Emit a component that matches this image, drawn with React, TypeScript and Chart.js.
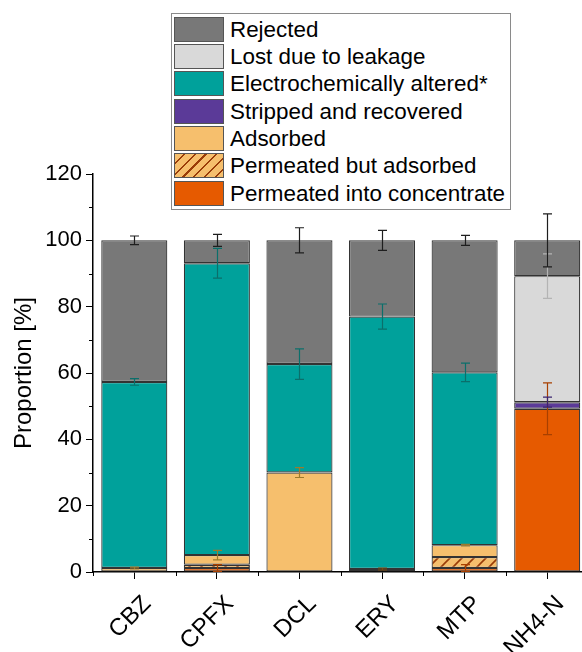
import React, { useEffect, useRef } from "react";
import { Chart, registerables } from "chart.js";
Chart.register(...registerables);

const categories = ["CBZ", "CPFX", "DCL", "ERY", "MTP", "NH4-N"];

// stacked from bottom to top
const concentrate = [0, 1.2, 0, 0, 1.2, 49.2];
const permeatedAdsorbed = [0, 1.0, 0, 0.9, 3.3, 0];
const adsorbed = [1.2, 2.9, 30.0, 0, 3.6, 0];
const stripped = [0, 0, 0, 0, 0, 2.0];
const altered = [56.1, 88.0, 32.7, 76.1, 52.1, 0];
const leakage = [0, 0, 0, 0, 0, 38.0];
const rejected = [42.7, 6.9, 37.3, 23.0, 39.8, 10.8];

const concentrateErr = [0, 1.0, 0, 0, 1.0, 7.8];
const permeatedAdsorbedErr = [0, 0, 0, 0.3, 0, 0];
const adsorbedErr = [0.3, 1.45, 1.5, 0, 0.2, 0];
const strippedErr = [0, 0, 0, 0, 0, 1.5];
const alteredErr = [1.0, 4.5, 4.6, 3.8, 2.8, 0];
const leakageErr = [0, 0, 0, 0, 0, 6.7];
const rejectedErr = [1.3, 1.8, 3.8, 3.0, 1.5, 8.0];

const yMin = 0;
const yMax = 120;
const yStep = 20;
const yMinorTicks = [10, 30, 50, 70, 90, 110];

const FONT = 'Arial, "Liberation Sans", sans-serif';
const HATCH_BG = "#f6bf6d";
const HATCH_LINE = "#9a3c08";

type Series = {
  label: string;
  data: number[];
  err: number[];
  color: string;
  errColor: string;
  hatch?: boolean;
};

const series: Series[] = [
  { label: "Permeated into concentrate", data: concentrate, err: concentrateErr, color: "#e65a00", errColor: "#a84000" },
  { label: "Permeated but adsorbed", data: permeatedAdsorbed, err: permeatedAdsorbedErr, color: HATCH_BG, errColor: "#7a4a10", hatch: true },
  { label: "Adsorbed", data: adsorbed, err: adsorbedErr, color: "#f6bf6d", errColor: "#9c7a2c" },
  { label: "Stripped and recovered", data: stripped, err: strippedErr, color: "#5b3a98", errColor: "#3a2470" },
  { label: "Electrochemically altered*", data: altered, err: alteredErr, color: "#00a19b", errColor: "#0b6f6b" },
  { label: "Lost due to leakage", data: leakage, err: leakageErr, color: "#d9d9d9", errColor: "#b4b4b4" },
  { label: "Rejected", data: rejected, err: rejectedErr, color: "#787878", errColor: "#1e1e1e" },
];

function makeHatch(): CanvasPattern | string {
  const s = 12;
  const c = document.createElement("canvas");
  c.width = s;
  c.height = s;
  const g = c.getContext("2d");
  if (!g) return HATCH_BG;
  g.fillStyle = HATCH_BG;
  g.fillRect(0, 0, s, s);
  g.strokeStyle = HATCH_LINE;
  g.lineWidth = 1.6;
  g.beginPath();
  g.moveTo(-2, s + 2);
  g.lineTo(s + 2, -2);
  g.moveTo(-2, 2);
  g.lineTo(2, -2);
  g.moveTo(s - 2, s + 2);
  g.lineTo(s + 2, s - 2);
  g.stroke();
  const p = g.createPattern(c, "repeat");
  return p || HATCH_BG;
}

const errorBarPlugin = {
  id: "errorBars",
  afterDatasetsDraw(chart: any) {
    const ctx = chart.ctx;
    const xs = chart.scales.x;
    const ys = chart.scales.y;
    const cum = categories.map(() => 0);
    ctx.save();
    ctx.lineWidth = 1.2;
    series.forEach((s) => {
      s.data.forEach((v, i) => {
        cum[i] += v;
        const e = s.err[i];
        if (!e) return;
        const px = Math.round(xs.getPixelForValue(i)) + 0.5;
        const top = ys.getPixelForValue(cum[i] + e);
        const bot = ys.getPixelForValue(cum[i] - e);
        ctx.strokeStyle = s.errColor;
        ctx.beginPath();
        ctx.moveTo(px, top);
        ctx.lineTo(px, bot);
        ctx.moveTo(px - 4.5, top);
        ctx.lineTo(px + 4.5, top);
        ctx.moveTo(px - 4.5, bot);
        ctx.lineTo(px + 4.5, bot);
        ctx.stroke();
      });
    });
    ctx.restore();
  },
  afterDraw(chart: any) {
    const ctx = chart.ctx;
    const xs = chart.scales.x;
    const ys = chart.scales.y;
    const area = chart.chartArea;
    ctx.save();
    ctx.strokeStyle = "#000";
    ctx.lineWidth = 1;
    ctx.beginPath();
    yMinorTicks.forEach((t) => {
      const py = Math.round(ys.getPixelForValue(t)) + 0.5;
      ctx.moveTo(area.left - 4, py);
      ctx.lineTo(area.left, py);
    });
    const n = categories.length;
    const step = n > 1 ? xs.getPixelForValue(1) - xs.getPixelForValue(0) : 80;
    for (let i = 0; i <= n; i++) {
      const px = Math.round(xs.getPixelForValue(0) + (i - 0.5) * step) + 0.5;
      ctx.moveTo(px, area.bottom);
      ctx.lineTo(px, area.bottom + 4);
    }
    ctx.stroke();
    ctx.restore();
  },
};

function Legend() {
  const items = [...series].reverse();
  return (
    <div
      style={{
        position: "absolute",
        left: 171,
        top: 13,
        width: 340,
        height: 197,
        boxSizing: "border-box",
        border: "1px solid #8a8a8a",
        background: "#fff",
        fontFamily: FONT,
        fontSize: 22.4,
        color: "#000",
      }}
    >
      {items.map((s, i) => (
        <div
          key={s.label}
          style={{ position: "absolute", left: 2, top: 2.7 + i * 27.3, height: 25, display: "flex", alignItems: "center", whiteSpace: "nowrap" }}
        >
          <div
            style={{
              width: 50,
              height: 25,
              boxSizing: "border-box",
              border: "1px solid #555",
              background: s.hatch
                ? `repeating-linear-gradient(135deg, ${HATCH_BG} 0px, ${HATCH_BG} 6px, ${HATCH_LINE} 6px, ${HATCH_LINE} 7.6px)`
                : s.color,
            }}
          />
          <span style={{ marginLeft: 6, lineHeight: "25px" }}>{s.label}</span>
        </div>
      ))}
    </div>
  );
}

export default function App() {
  const ref = useRef<HTMLCanvasElement | null>(null);

  useEffect(() => {
    if (!ref.current) return;
    const hatch = makeHatch();
    const chart = new Chart(ref.current, {
      type: "bar",
      data: {
        labels: categories,
        datasets: series.map((s) => ({
          label: s.label,
          data: s.data.map((v) => (v ? v : null)),
          backgroundColor: s.hatch ? (hatch as any) : s.color,
          borderColor: "#333333",
          borderWidth: 1.2,
          borderSkipped: false,
          barPercentage: 1,
          categoryPercentage: 0.8,
        })),
      },
      options: {
        responsive: false,
        animation: false,
        devicePixelRatio: 1,
        layout: { padding: { top: 174, right: 11.5, left: 0, bottom: 0 } },
        plugins: { legend: { display: false }, tooltip: { enabled: false } },
        scales: {
          x: {
            stacked: true,
            afterFit: (scale: any) => {
              scale.height = 80;
            },
            grid: { display: true, drawOnChartArea: false, drawTicks: true, tickLength: 7, color: "#000", offset: false },
            border: { display: true, color: "#000", width: 1.5 },
            ticks: {
              color: "#000",
              font: { family: FONT, size: 24 },
              maxRotation: 45,
              minRotation: 45,
              labelOffset: 13,
              padding: 11,
              autoSkip: false,
            },
          },
          y: {
            stacked: true,
            min: yMin,
            max: yMax,
            afterFit: (scale: any) => {
              scale.width = 93;
            },
            grid: { display: true, drawOnChartArea: false, drawTicks: true, tickLength: 7, color: "#000" },
            border: { display: true, color: "#000", width: 1.5 },
            ticks: { stepSize: yStep, color: "#000", font: { family: FONT, size: 22 }, padding: 4 },
            title: {
              display: true,
              text: "Proportion [%]",
              color: "#000",
              font: { family: FONT, size: 24 },
              padding: { top: 10, bottom: 0 },
            },
          },
        },
      },
      plugins: [errorBarPlugin],
    });
    return () => chart.destroy();
  }, []);

  return (
    <div style={{ position: "fixed", left: 0, top: 0, width: 582, height: 652, overflow: "hidden", background: "#fff" }}>
      <canvas ref={ref} width={600} height={652} style={{ display: "block", position: "absolute", left: 0, top: 0 }} />
      <Legend />
    </div>
  );
}
